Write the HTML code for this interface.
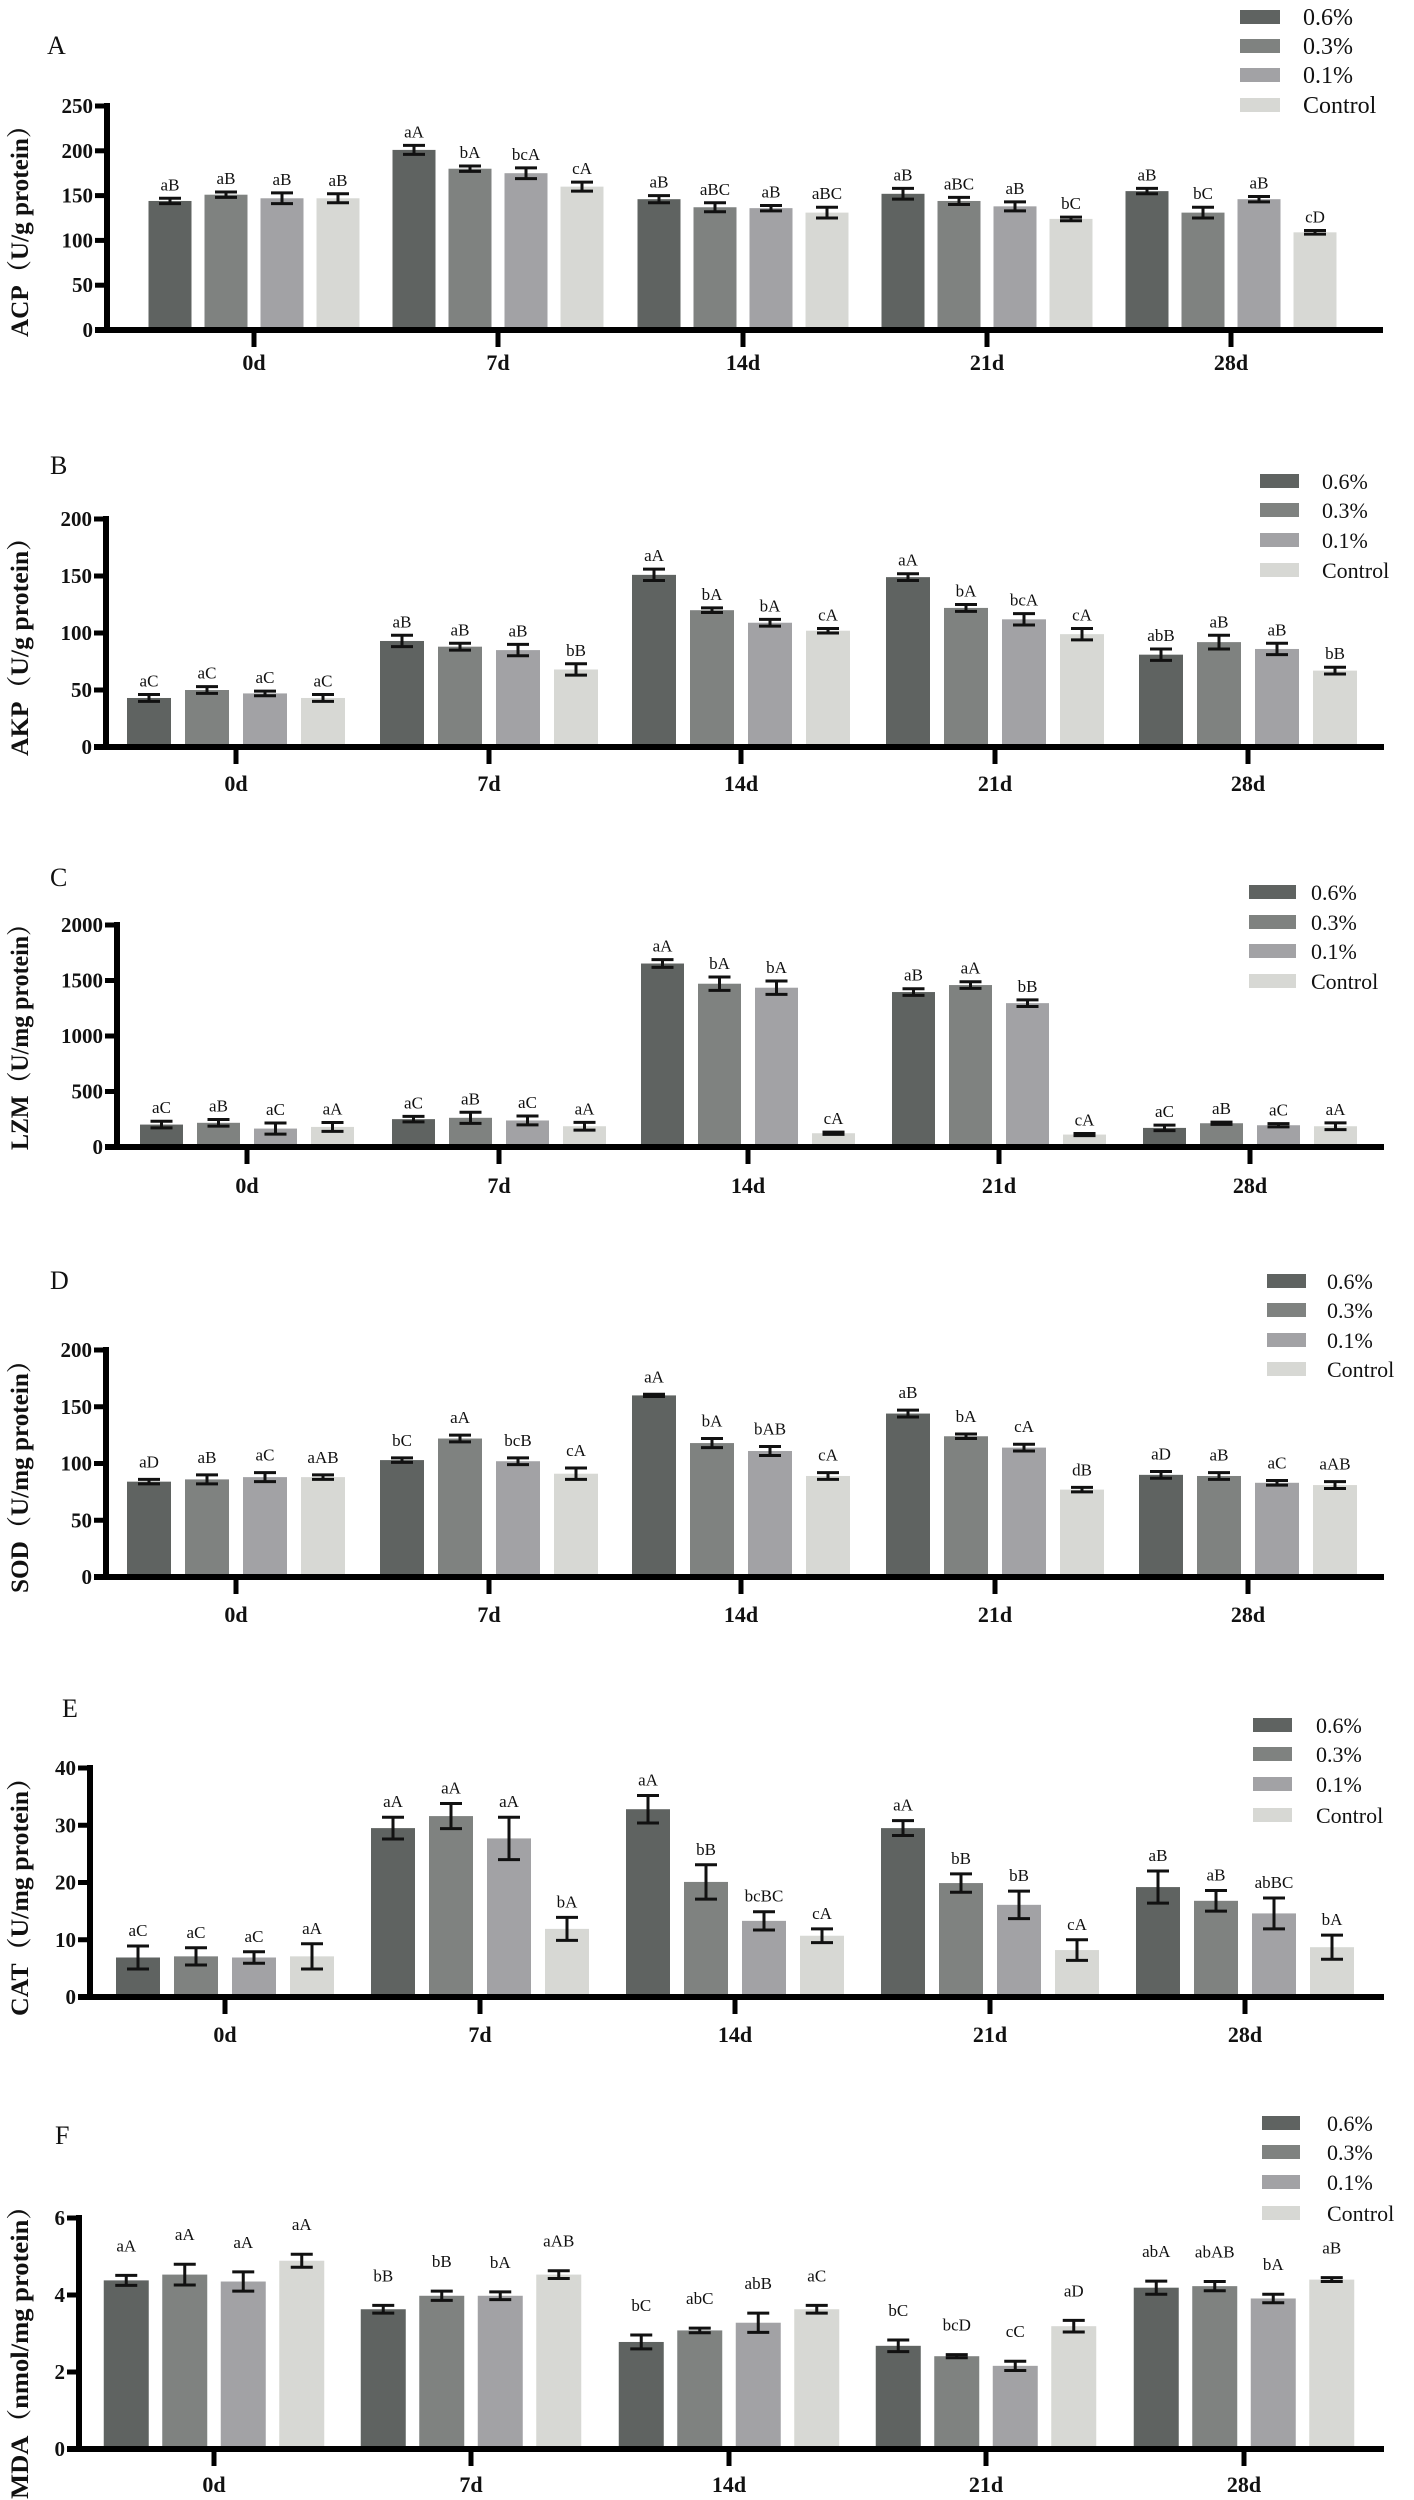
<!DOCTYPE html>
<html><head><meta charset="utf-8"><style>
html,body{margin:0;padding:0;background:#fff;}
svg{display:block;}
text{font-family:"Liberation Serif","Noto Serif CJK SC",serif;}
</style></head>
<body>
<svg id="chart" width="1414" height="2500" viewBox="0 0 1414 2500"></svg>
<script>
const categories = ["0d","7d","14d","21d","28d"];
const seriesNames = ["0.6%","0.3%","0.1%","Control"];
const seriesColors = ["#5f6361","#7f8280","#a2a2a5","#d7d8d4"];

const acpMeans = [[144,151,147,147],[201,180,175,160],[146,137,136,131],[152,144,138,124],[155,131,146,109]];
const acpErrors = [[3,3,6,5],[5,3,6,5],[4,5,3,6],[6,4,5,2],[3,6,3,2]];
const acpLetters = [["aB","aB","aB","aB"],["aA","bA","bcA","cA"],["aB","aBC","aB","aBC"],["aB","aBC","aB","bC"],["aB","bC","aB","cD"]];
const acpTicks = [0,50,100,150,200,250];

const akpMeans = [[43,50,47,43],[93,88,85,68],[151,120,109,102],[149,122,112,99],[81,92,86,67]];
const akpErrors = [[3,3,2,3],[5,3,5,5],[5,2,3,2],[3,3,5,5],[5,6,5,3]];
const akpLetters = [["aC","aC","aC","aC"],["aB","aB","aB","bB"],["aA","bA","bA","cA"],["aA","bA","bcA","cA"],["abB","aB","aB","bB"]];
const akpTicks = [0,50,100,150,200];

const lzmMeans = [[202,218,166,181],[251,263,239,187],[1653,1471,1435,124],[1396,1459,1296,112],[172,214,196,187]];
const lzmErrors = [[30,30,50,40],[25,50,40,35],[35,60,60,10],[30,30,30,10],[25,10,15,30]];
const lzmLetters = [["aC","aB","aC","aA"],["aC","aB","aC","aA"],["aA","bA","bA","cA"],["aB","aA","bB","cA"],["aC","aB","aC","aA"]];
const lzmTicks = [0,500,1000,1500,2000];

const sodMeans = [[84,86,88,88],[103,122,102,91],[160,118,111,89],[144,124,114,77],[90,89,83,81]];
const sodErrors = [[2,4,4,2],[2,3,3,5],[1,4,4,3],[3,2,3,2],[3,3,2,3]];
const sodLetters = [["aD","aB","aC","aAB"],["bC","aA","bcB","cA"],["aA","bA","bAB","cA"],["aB","bA","cA","dB"],["aD","aB","aC","aAB"]];
const sodTicks = [0,50,100,150,200];

const catMeans = [[6.9,7.1,6.9,7.1],[29.5,31.6,27.7,11.9],[32.8,20.1,13.3,10.7],[29.5,19.9,16.1,8.2],[19.2,16.8,14.6,8.7]];
const catErrors = [[2,1.5,1,2.2],[1.9,2.2,3.7,2],[2.4,3,1.6,1.2],[1.3,1.6,2.4,1.8],[2.8,1.8,2.7,2.1]];
const catLetters = [["aC","aC","aC","aA"],["aA","aA","aA","bA"],["aA","bB","bcBC","cA"],["aA","bB","bB","cA"],["aB","aB","abBC","bA"]];
const catTicks = [0,10,20,30,40];

const mdaMeans = [[4.38,4.53,4.35,4.89],[3.63,3.98,3.98,4.53],[2.78,3.08,3.28,3.63],[2.68,2.41,2.16,3.19],[4.19,4.23,3.91,4.40]];
const mdaErrors = [[0.13,0.27,0.25,0.17],[0.1,0.12,0.1,0.1],[0.18,0.06,0.25,0.1],[0.15,0.04,0.12,0.15],[0.17,0.12,0.11,0.05]];
const mdaLetters = [["aA","aA","aA","aA"],["bB","bB","bA","aAB"],["bC","abC","abB","aC"],["bC","bcD","cC","aD"],["abA","abAB","bA","aB"]];
const mdaTicks = [0,2,4,6];

const panels = [
 {key:"acp",letter:"A",title:"ACP（U/g protein）",means:acpMeans,errs:acpErrors,labs:acpLetters,ticks:acpTicks,
  ax:107,top:106,base:330,catX:[254,498,743,987,1231],bw:43,sp:56,lx:1240,ltx:1303,ly:[17,46,75,105],lw:40,lfs:24,
  px:47,py:44,titleY:[113,337],gap:8,catY:370,end:1383},
 {key:"akp",letter:"B",title:"AKP（U/g protein）",means:akpMeans,errs:akpErrors,labs:akpLetters,ticks:akpTicks,
  ax:106,top:519,base:747,catX:[236,489,741,995,1248],bw:44,sp:58,lx:1260,ltx:1322,ly:[481,510,540,570],lw:39,lfs:22,
  px:50,py:464,titleY:[525,756],gap:8,catY:791,end:1384},
 {key:"lzm",letter:"C",title:"LZM（U/mg protein）",means:lzmMeans,errs:lzmErrors,labs:lzmLetters,ticks:lzmTicks,
  ax:117,top:925,base:1147,catX:[247,499,748,999,1250],bw:43,sp:57,lx:1249,ltx:1311,ly:[892,922,951,981],lw:47,lfs:22,
  px:50,py:876,titleY:[912,1150],gap:8,catY:1193,end:1384},
 {key:"sod",letter:"D",title:"SOD（U/mg protein）",means:sodMeans,errs:sodErrors,labs:sodLetters,ticks:sodTicks,
  ax:106,top:1350,base:1577,catX:[236,489,741,995,1248],bw:44,sp:58,lx:1267,ltx:1327,ly:[1281,1310,1340,1369],lw:39,lfs:22,
  px:50,py:1279,titleY:[1348,1593],gap:12,catY:1622,end:1384},
 {key:"cat",letter:"E",title:"CAT（U/mg protein）",means:catMeans,errs:catErrors,labs:catLetters,ticks:catTicks,
  ax:90,top:1768,base:1997,catX:[225,480,735,990,1245],bw:44,sp:58,lx:1253,ltx:1316,ly:[1725,1754,1784,1815],lw:39,lfs:22,
  px:62,py:1707,titleY:[1765,2016],gap:10,catY:2042,end:1384},
 {key:"mda",letter:"F",title:"MDA（nmol/mg protein）",means:mdaMeans,errs:mdaErrors,labs:mdaLetters,ticks:mdaTicks,
  ax:79,top:2218,base:2449,catX:[214,471,729,986,1244],bw:45,sp:58.5,lx:1262,ltx:1327,ly:[2123,2152,2182,2213],lw:38,lfs:22,
  px:55,py:2134,titleY:[2193,2499],gap:24,catY:2492,end:1384}
];

const NS = "http://www.w3.org/2000/svg";
const svg = document.getElementById("chart");
function mk(tag, attrs, parent){
  const e = document.createElementNS(NS, tag);
  for (const k in attrs) e.setAttribute(k, attrs[k]);
  (parent||svg).appendChild(e);
  return e;
}

panels.forEach(p => {
  const g = mk("g", {});
  
  
  const maxV = p.ticks[p.ticks.length-1];
  const yScale = v => p.base - (v / maxV) * (p.base - p.top);
  const xScale = (ci, si) => p.catX[ci] + (si - 1.5) * p.sp;

  const pl = mk("text", {x:p.px, y:p.py+10, "font-size":26, fill:"#111"}, g);
  pl.textContent = p.letter;
  
  

  // bars
  p.means.forEach((row, ci) => {
    row.forEach((v, si) => {
      const cx = xScale(ci, si);
      const y = yScale(v);
      const r = mk("rect", {x:cx - p.bw/2, y:y, width:p.bw, height:p.base - y, fill:seriesColors[si]}, g);
      
      
      const e = p.errs[ci][si];
      const y1 = yScale(v + e), y2 = yScale(v - e);
      const eb = mk("path", {d:`M${cx},${y1}V${y2}M${cx-11},${y1}H${cx+11}M${cx-11},${y2}H${cx+11}`, stroke:"#111", "stroke-width":3, fill:"none"}, g);
      
      
      const t = mk("text", {x:cx, y:y1 - p.gap, "text-anchor":"middle", "font-size":17, fill:"#111"}, g);
      t.textContent = p.labs[ci][si];
      
      
    });
  });

  // axes
  const ya = mk("line", {x1:p.ax, y1:p.top-3, x2:p.ax, y2:p.base+3, stroke:"#000", "stroke-width":6}, g);
  
  
  const xa = mk("line", {x1:p.ax-12, y1:p.base, x2:p.end, y2:p.base, stroke:"#000", "stroke-width":6}, g);
  
  

  p.ticks.forEach(tv => {
    const y = yScale(tv);
    const tk = mk("line", {x1:p.ax-12, y1:y, x2:p.ax, y2:y, stroke:"#000", "stroke-width":5}, g);
    
    
    const tl = mk("text", {x:p.ax-14, y:y+7, "text-anchor":"end", "font-size":21, "font-weight":"bold", fill:"#111"}, g);
    tl.textContent = tv;
    
    
  });

  categories.forEach((c, ci) => {
    const x = p.catX[ci];
    const tk = mk("line", {x1:x, y1:p.base, x2:x, y2:p.base+17, stroke:"#000", "stroke-width":5}, g);
    
    
    const tl = mk("text", {x:x, y:p.catY, "text-anchor":"middle", "font-size":22, "font-weight":"bold", fill:"#111"}, g);
    tl.textContent = c;
    
    
  });

  // y-axis title
  const cy = (p.titleY[0] + p.titleY[1]) / 2;
  const tt = mk("text", {x:0, y:0, "text-anchor":"middle", "font-size":25, "font-weight":"bold", fill:"#111",
    transform:`translate(28,${cy}) rotate(-90)`, textLength:(p.titleY[1]-p.titleY[0]), lengthAdjust:"spacingAndGlyphs"}, g);
  tt.textContent = p.title;
  
  

  // legend
  seriesNames.forEach((s, si) => {
    const ly = p.ly[si];
    const sw = mk("rect", {x:p.lx, y:ly-7, width:p.lw, height:14, fill:seriesColors[si]}, g);
    
    
    const lt = mk("text", {x:p.ltx, y:ly+8, "font-size":p.lfs, fill:"#111"}, g);
    lt.textContent = s;
    
    
  });
});
</script>
</body></html>
